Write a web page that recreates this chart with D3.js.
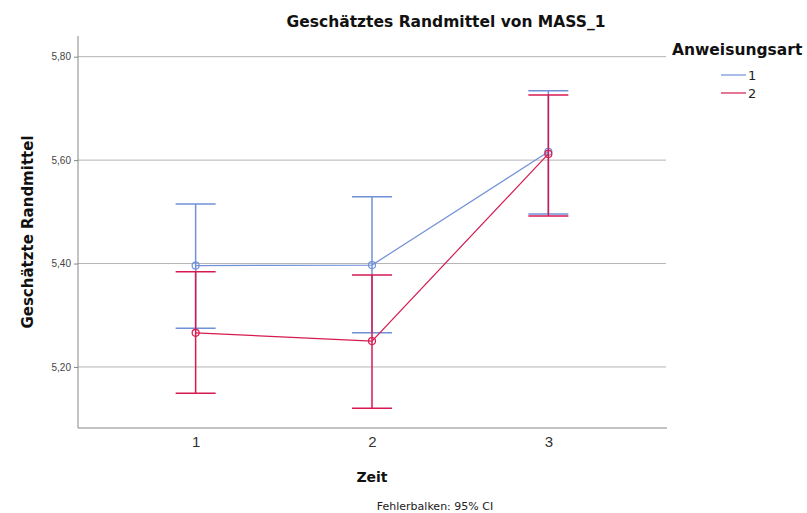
<!DOCTYPE html>
<html>
<head>
<meta charset="utf-8">
<script src="https://cdn.jsdelivr.net/npm/d3@7"></script>
<style>
  body { margin: 0; background: #fff; }
  svg { font-family: "DejaVu Sans", sans-serif; }
</style>
</head>
<body>
<svg id="chart" width="807" height="513"></svg>
<script>
// Zeitpunkte und Gruppen
var zeit = [1, 2, 3];
var gruppen = ["1", "2"];

// geschätzte Randmittel je Gruppe
var mittel1 = [5.396, 5.397, 5.616];
var mittel2 = [5.266, 5.250, 5.612];

// 95% CI Grenzen
var oben1 = [5.515, 5.529, 5.734];
var unten1 = [5.275, 5.266, 5.496];
var oben2 = [5.384, 5.378, 5.726];
var unten2 = [5.149, 5.120, 5.492];

var yTicks = [5.2, 5.4, 5.6, 5.8];
var farben = ["#7090d8", "#d61a50"];

var svg = d3.select("#chart");
var pLeft = 78, pRight = 666, pTop = 36, pBottom = 428;

var x = d3.scaleLinear().domain([0.333, 3.667]).range([pLeft, pRight]);
var y = d3.scaleLinear().domain([5.082, 5.84]).range([pBottom, pTop]);

// grid lines
svg.append("g")
    .selectAll("line")
    .data(yTicks)
    .enter()
    .append("line")
    .attr("x1", pLeft)
    .attr("x2", pRight)
    .attr("y1", function(d) { return y(d); })
    .attr("y2", function(d) { return y(d); })
    .attr("stroke", "#b4b4b4")
    .attr("stroke-width", 1);

// y axis
var yAxis = d3.axisLeft(y)
    .tickValues(yTicks)
    .tickSize(4)
    .tickFormat(function(d) { return d3.format(".2f")(d).replace(".", ","); });

var gy = svg.append("g")
    .attr("transform", "translate(" + pLeft + ",0)")
    .call(yAxis);
gy.select(".domain").attr("d", "M0," + pTop + "V" + pBottom).attr("stroke", "#888");
gy.selectAll(".tick line").attr("stroke", "#888");
gy.selectAll(".tick text")
    .attr("fill", "#444")
    .style("font-size", "10px");

// x axis
var xAxis = d3.axisBottom(x).tickValues(zeit).tickSize(0).tickPadding(8).tickFormat(d3.format("d"));
var gx = svg.append("g")
    .attr("transform", "translate(0," + pBottom + ")")
    .call(xAxis);
gx.select(".domain").attr("d", "M" + pLeft + ",0H" + (pRight + 1)).attr("stroke", "#888");
gx.selectAll(".tick text")
    .attr("fill", "#333")
    .style("font-size", "15px");

var serien = [
    { name: gruppen[0], m: mittel1, o: oben1, u: unten1, c: farben[0] },
    { name: gruppen[1], m: mittel2, o: oben2, u: unten2, c: farben[1] }
];

var linie = d3.line()
    .x(function(d, i) { return x(zeit[i]); })
    .y(function(d) { return y(d); });

var capW = 20;

serien.forEach(function(s) {
    var g = svg.append("g");

    // error bars
    zeit.forEach(function(t, i) {
        g.append("line")
            .attr("x1", x(t)).attr("x2", x(t))
            .attr("y1", y(s.o[i])).attr("y2", y(s.u[i]))
            .attr("stroke", s.c).attr("stroke-width", 1.5);
        [s.o[i], s.u[i]].forEach(function(v) {
            g.append("line")
                .attr("x1", x(t) - capW).attr("x2", x(t) + capW)
                .attr("y1", y(v)).attr("y2", y(v))
                .attr("stroke", s.c).attr("stroke-width", 1.5);
        });
    });

    g.append("path")
        .datum(s.m)
        .attr("d", linie)
        .attr("fill", "none")
        .attr("stroke", s.c)
        .attr("stroke-width", 1.2);

    g.selectAll("circle")
        .data(s.m)
        .enter()
        .append("circle")
        .attr("cx", function(d, i) { return x(zeit[i]); })
        .attr("cy", function(d) { return y(d); })
        .attr("r", 3.5)
        .attr("fill", "none")
        .attr("stroke", s.c)
        .attr("stroke-width", 1.2);
});

// titles
svg.append("text")
    .attr("x", 446).attr("y", 27)
    .attr("text-anchor", "middle")
    .style("font-size", "15.5px").style("font-weight", "bold")
    .attr("fill", "#111")
    .text("Geschätztes Randmittel von MASS_1");

svg.append("text")
    .attr("transform", "translate(33," + (pBottom + pTop) / 2 + ") rotate(-90)")
    .attr("text-anchor", "middle")
    .style("font-size", "15px").style("font-weight", "bold")
    .attr("fill", "#111")
    .text("Geschätzte Randmittel");

svg.append("text")
    .attr("x", x(2)).attr("y", 482)
    .attr("text-anchor", "middle")
    .style("font-size", "14px").style("font-weight", "bold")
    .attr("fill", "#111")
    .text("Zeit");

svg.append("text")
    .attr("x", 435).attr("y", 510)
    .attr("text-anchor", "middle")
    .style("font-size", "11px")
    .attr("fill", "#222")
    .text("Fehlerbalken: 95% CI");

// legend
svg.append("text")
    .attr("x", 672).attr("y", 55)
    .style("font-size", "15.5px").style("font-weight", "bold")
    .attr("fill", "#111")
    .text("Anweisungsart");

serien.forEach(function(s, i) {
    var ly = 75 + i * 18;
    svg.append("line")
        .attr("x1", 721).attr("x2", 746)
        .attr("y1", ly).attr("y2", ly)
        .attr("stroke", s.c).attr("stroke-width", 1.2);
    svg.append("text")
        .attr("x", 748).attr("y", ly + 5)
        .style("font-size", "13px")
        .attr("fill", "#222")
        .text(s.name);
});
</script>
</body>
</html>
